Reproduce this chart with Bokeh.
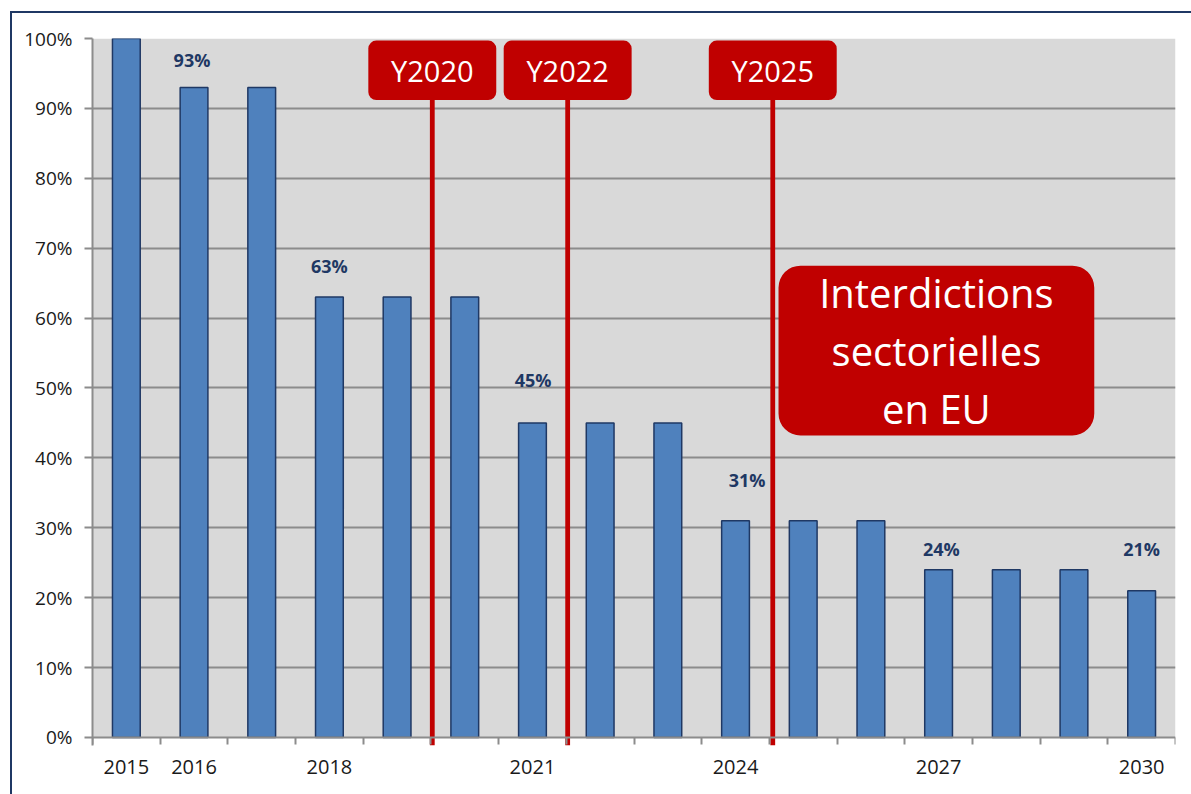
from bokeh.plotting import figure
from bokeh.models import (ColumnDataSource, FixedTicker, PrintfTickFormatter, Range1d,
                          BoxAnnotation, Label, LinearAxis)
from bokeh.core.properties import value
from bokeh.embed import file_html
from bokeh.resources import INLINE

# ---- data ----
years = list(range(2015, 2031))
shares = [100, 93, 93, 63, 63, 63, 45, 45, 45, 31, 31, 31, 24, 24, 24, 21]
tick_years = [2015, 2016, 2018, 2021, 2024, 2027, 2030]
label_years = [2016, 2018, 2021, 2024, 2027, 2030]
label_texts = [f"{shares[years.index(y)]}%" for y in label_years]
marker_texts = ["Y2020", "Y2022", "Y2025"]
note_text = "Interdictions\nsectorielles\nen EU"

# ---- layout of annotations (positions, not data) ----
label_x = [2015.97, 2018.0, 2021.01, 2024.17, 2027.04, 2030.0]
label_y = [96.9, 67.5, 51.1, 36.8, 26.9, 26.9]
marker_x = [2019.52, 2021.52, 2024.55]

FONT = "Open Sans"
GRID = "#8c8c8c"
RED = "#c00000"
NAVY = "#1f3864"

p = figure(width=1191, height=794, output_backend="svg", toolbar_location=None,
           x_range=Range1d(2014.5, 2030.5), y_range=Range1d(-1.15, 100),
           min_border_left=92, min_border_right=16, min_border_top=38, min_border_bottom=49)
p.background_fill_color = "white"
p.border_fill_color = None
p.outline_line_color = None
p.styles = {
    "background": ("linear-gradient(#1f3864,#1f3864) 10px 11px / 100% 2px no-repeat, "
                   "linear-gradient(#1f3864,#1f3864) 10px 11px / 2px 100% no-repeat, #ffffff")
}

# gray plot area (0..100%)
p.add_layout(BoxAnnotation(bottom=0, top=100, fill_color="#d9d9d9", fill_alpha=1,
                           line_color=None, level="image"))

# bars
src = ColumnDataSource(dict(x=years, top=shares))
p.vbar(x="x", top="top", bottom=0, width=0.41, source=src,
       fill_color="#4f81bd", line_color=NAVY, line_width=1.5)

# data labels
lsrc = ColumnDataSource(dict(x=label_x, y=label_y, t=label_texts))
p.text(x="x", y="y", text="t", source=lsrc, text_font=value(FONT), text_font_style="bold",
       text_font_size="18px", text_color=NAVY, text_align="center", text_baseline="middle")

# red marker lines
msrc = ColumnDataSource(dict(x=marker_x, y0=[91.2] * 3, y1=[-1.15] * 3))
p.segment(x0="x", x1="x", y0="y0", y1="y1", source=msrc, line_color=RED, line_width=4.8)

# marker boxes
for mx, mt in zip(marker_x, marker_texts):
    p.add_layout(BoxAnnotation(left=mx - 0.945, right=mx + 0.945, bottom=91.2, top=99.7,
                               fill_color=RED, fill_alpha=1, line_color=None, border_radius=8))
    p.add_layout(Label(x=mx, y=95.45, text=mt, text_align="center", text_baseline="middle",
                       text_color="white", text_font=FONT, text_font_size="29px"))

# note box
p.add_layout(BoxAnnotation(left=2024.635, right=2029.3, bottom=43.2, top=67.5,
                           fill_color=RED, fill_alpha=1, line_color=None, border_radius=22))
p.add_layout(Label(x=(2024.635 + 2029.3) / 2, y=55.35, text=note_text, text_align="center",
                   text_baseline="middle", text_color="white", text_font=FONT,
                   text_font_size="40px", text_line_height=1.05))

# y axis
yax = p.yaxis[0]
yax.ticker = FixedTicker(ticks=list(range(0, 101, 10)))
yax.formatter = PrintfTickFormatter(format="%d%%")
yax.axis_line_color = GRID
yax.axis_line_width = 2
yax.major_tick_line_color = GRID
yax.major_tick_line_width = 2
yax.major_tick_out = 8
yax.major_tick_in = 0
yax.minor_tick_line_color = None
yax.major_label_standoff = 12
yax.major_label_text_font = FONT
yax.major_label_text_font_size = "19px"
yax.major_label_text_color = "#1a1a1a"

# x axis: labels only (primary axis, next to the frame)
xax = p.xaxis[0]
xax.ticker = FixedTicker(ticks=tick_years)
xax.axis_line_color = None
xax.major_tick_line_color = None
xax.minor_tick_line_color = None
xax.major_tick_out = 0
xax.major_tick_in = 0
xax.major_label_standoff = 14
xax.major_label_text_font = FONT
xax.major_label_text_font_size = "20px"
xax.major_label_text_color = "#1a1a1a"

# x axis line + category-boundary ticks drawn at y = 0
xline = LinearAxis(fixed_location=0,
                   ticker=FixedTicker(ticks=[], minor_ticks=[2014.5 + i for i in range(17)]))
xline.axis_line_color = GRID
xline.axis_line_width = 2
xline.major_tick_line_color = None
xline.major_tick_out = 0
xline.major_tick_in = 0
xline.minor_tick_line_color = GRID
xline.minor_tick_line_width = 2
xline.minor_tick_out = 7
xline.minor_tick_in = 0
xline.major_label_standoff = 0
xline.major_label_text_font_size = "0px"
p.add_layout(xline, "below")

# grid
p.xgrid.grid_line_color = None
p.ygrid.ticker = FixedTicker(ticks=list(range(10, 101, 10)))
p.ygrid.grid_line_color = GRID
p.ygrid.grid_line_width = 2

open("out.html", "w").write(file_html(p, INLINE))
